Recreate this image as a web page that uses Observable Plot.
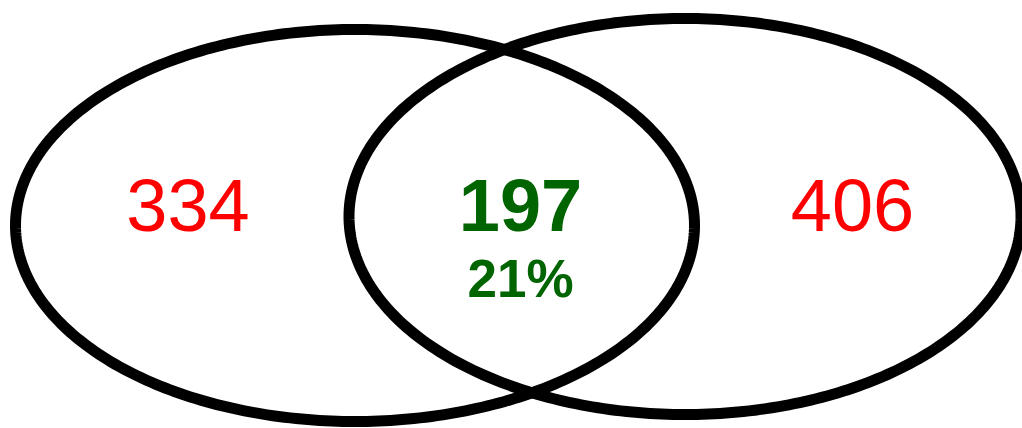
<!DOCTYPE html>
<html>
<head>
<meta charset="utf-8">
<script src="https://cdn.jsdelivr.net/npm/d3@7"></script>
<script src="https://cdn.jsdelivr.net/npm/@observablehq/plot@0.6"></script>
<style>
  html, body { margin: 0; padding: 0; background: #fff; }
  #chart svg { display: block; }
</style>
</head>
<body>
<div id="chart"></div>
<script>
// Sets (ellipses) in canvas units
const setNames = ["A", "B"];
const setCx = [354.5, 684.5];
const setCy = [225, 216];
const setRx = [339.5, 336];
const setRy = [196, 198];

// Region counts and labels
const regionLabels = ["334", "197", "406"];
const regionX = [187.5, 520, 852];
const regionColors = ["#ff0000", "#006400", "#ff0000"];
const regionWeights = ["normal", "bold", "normal"];
const overlapPercent = ["21%"];

const W = 1022, H = 428;

const outline = [];
setNames.forEach((name, i) => {
  d3.range(0, 361).forEach(k => {
    const t = (k / 360) * 2 * Math.PI;
    outline.push({set: name, x: setCx[i] + setRx[i] * Math.cos(t), y: setCy[i] + setRy[i] * Math.sin(t)});
  });
});

const counts = regionLabels.map((t, i) => ({text: t, x: regionX[i], y: 206.5, fill: regionColors[i], weight: regionWeights[i]}));
const pct = overlapPercent.map(t => ({text: t, x: regionX[1], y: 280}));

const font = "'Liberation Sans', Arial, Helvetica, sans-serif";

const chart = Plot.plot({
  width: W,
  height: H,
  margin: 0,
  x: {domain: [0, W], axis: null},
  y: {domain: [0, H], reverse: true, axis: null},
  style: {background: "#fff", fontFamily: font},
  marks: [
    Plot.line(outline, {x: "x", y: "y", z: "set", stroke: "#000", strokeWidth: 11, curve: "linear-closed"}),
    Plot.text(counts.filter(d => d.weight === "normal"), {x: "x", y: "y", text: "text", fill: "fill", fontSize: 74, fontWeight: "normal", fontFamily: font}),
    Plot.text(counts.filter(d => d.weight === "bold"), {x: "x", y: "y", text: "text", fill: "fill", fontSize: 74, fontWeight: "bold", fontFamily: font}),
    Plot.text(pct, {x: "x", y: "y", text: "text", fill: "#006400", fontSize: 53, fontWeight: "bold", fontFamily: font})
  ]
});
document.getElementById("chart").appendChild(chart);
</script>
</body>
</html>
